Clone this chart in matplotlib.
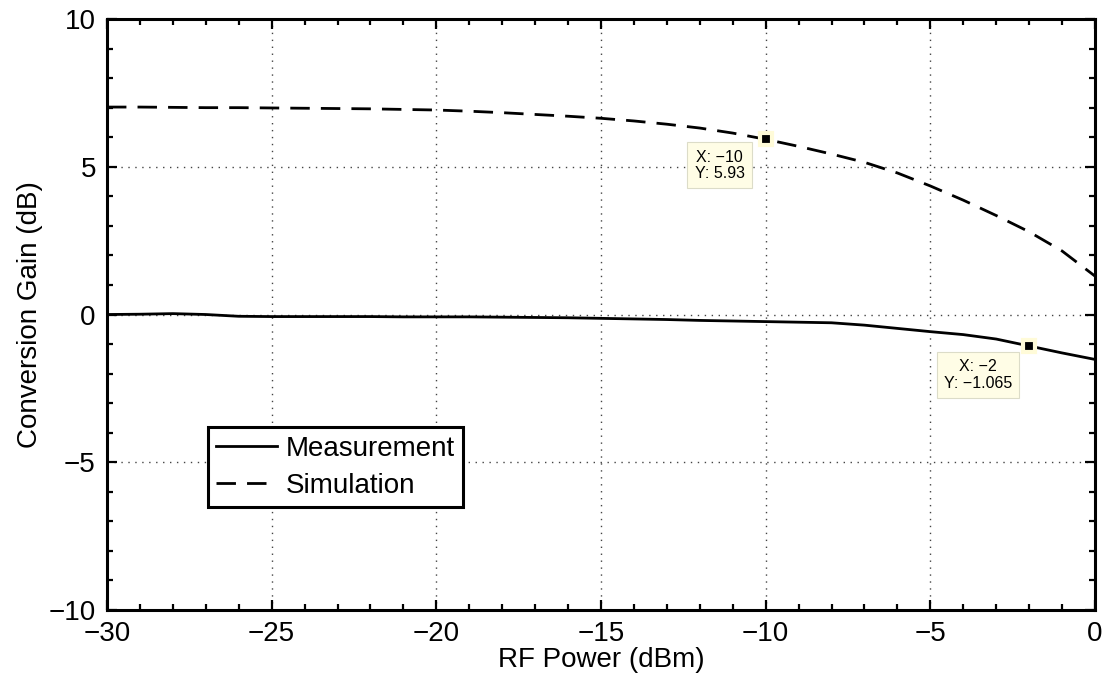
import numpy as np
import matplotlib
matplotlib.use("Agg")
import matplotlib.pyplot as plt
from matplotlib.ticker import MultipleLocator

plt.rcParams['font.family'] = ['Liberation Sans', 'DejaVu Sans']

# RF input power (dBm)
rf_power = np.arange(-30, 1, 1)

# conversion gain (dB)
measured_gain = [0.0, 0.01, 0.03, 0.0, -0.06, -0.07, -0.07, -0.07, -0.07, -0.08,
                 -0.08, -0.08, -0.09, -0.10, -0.11, -0.13, -0.15, -0.17, -0.20, -0.22,
                 -0.24, -0.26, -0.28, -0.36, -0.47, -0.58, -0.68, -0.83, -1.065, -1.30,
                 -1.52]
simulated_gain = [7.02, 7.02, 7.01, 7.00, 7.00, 6.99, 6.98, 6.97, 6.96, 6.94,
                  6.92, 6.88, 6.83, 6.77, 6.71, 6.64, 6.55, 6.44, 6.31, 6.14,
                  5.93, 5.69, 5.43, 5.15, 4.79, 4.35, 3.87, 3.35, 2.80, 2.15,
                  1.30]

# data tips shown on the chart
tip_sim = (-10, 5.93)
tip_meas = (-2, -1.065)

fig = plt.figure(figsize=(11.12, 6.91), dpi=100)
ax = fig.add_axes([0.0962, 0.1172, 0.8885, 0.8553])

ax.plot(rf_power, measured_gain, color="black", lw=2.0, label="Measurement")
ax.plot(rf_power, simulated_gain, color="black", lw=2.0, dashes=(7, 4), label="Simulation")

for tx, ty in (tip_sim, tip_meas):
    ax.plot(tx, ty, marker="s", ms=9, mfc="black", mec="#fffbd8", mew=3, zorder=5)

tip_box = dict(boxstyle="square,pad=0.45", fc="#fffde6", ec="#dcdcc8", lw=0.8)
ax.annotate(f"X: \u2212{abs(tip_sim[0])}\nY: {tip_sim[1]:.2f}", xy=tip_sim,
            xytext=(-46, -26), textcoords="offset pixels", ha="center", va="center",
            fontsize=11.5, linespacing=1.1, bbox=tip_box)
ax.annotate(f"X: \u2212{abs(tip_meas[0])}\nY: \u2212{abs(tip_meas[1])}", xy=tip_meas,
            xytext=(-51, -29), textcoords="offset pixels", ha="center", va="center",
            fontsize=11.5, linespacing=1.1, bbox=tip_box)

ax.set_xlim(-30, 0)
ax.set_ylim(-10, 10)
ax.xaxis.set_major_locator(MultipleLocator(5))
ax.yaxis.set_major_locator(MultipleLocator(5))
ax.xaxis.set_minor_locator(MultipleLocator(1))
ax.yaxis.set_minor_locator(MultipleLocator(1))
ax.grid(True, which="major", linestyle=(0, (1, 4)), color="#444444", lw=1.0)

ax.tick_params(which="both", direction="in", top=True, right=True, width=1.6,
               labelsize=20)
ax.tick_params(which="major", length=7, pad=8)
ax.tick_params(which="minor", length=4)
for sp in ax.spines.values():
    sp.set_linewidth(2.2)

ax.set_xlabel("RF Power (dBm)", fontsize=20, labelpad=0)
ax.set_ylabel("Conversion Gain (dB)", fontsize=20, labelpad=4)

leg = ax.legend(loc="lower left", bbox_to_anchor=(0.102, 0.174), borderaxespad=0,
                fontsize=20, frameon=True, fancybox=False, framealpha=1,
                handlelength=2.2, handletextpad=0.3, borderpad=0.3,
                labelspacing=0.4)
leg.get_frame().set_edgecolor("black")
leg.get_frame().set_linewidth(2.2)

fig.savefig("out.png", dpi=100)
